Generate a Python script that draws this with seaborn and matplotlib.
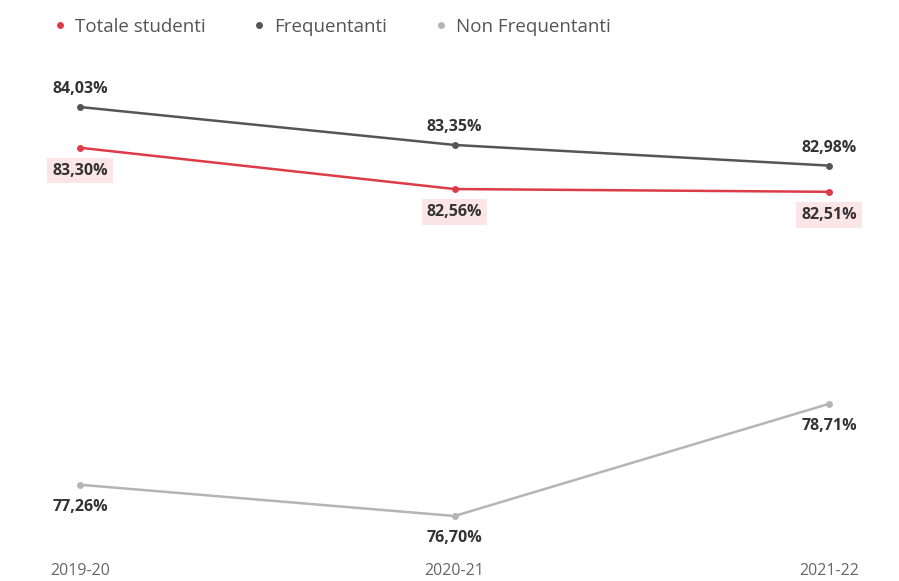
import pandas as pd
import matplotlib
matplotlib.use("Agg")
import matplotlib.pyplot as plt
import seaborn as sns
from matplotlib.lines import Line2D

# dati
anni = ["2019-20", "2020-21", "2021-22"]
totale = [83.30, 82.56, 82.51]
frequentanti = [84.03, 83.35, 82.98]
non_frequentanti = [77.26, 76.70, 78.71]

serie = ["Totale studenti", "Frequentanti", "Non Frequentanti"]
colori = ["#de3b48", "#555555", "#b5b5b5"]

df = pd.DataFrame({
    "anno": anni * 3,
    "pos": list(range(len(anni))) * 3,
    "valore": totale + frequentanti + non_frequentanti,
    "serie": [s for s in serie for _ in anni],
})

sns.set_style("white")
plt.rcParams['font.family'] = ['Open Sans', 'DejaVu Sans']

fig = plt.figure(figsize=(8.99, 5.81), dpi=100)
ax = fig.add_axes([80 / 899, 51 / 581, 749 / 899, 440 / 581])

sns.lineplot(data=df, x="pos", y="valore", hue="serie", hue_order=serie,
             palette=colori, marker="o", markersize=5, markeredgewidth=0,
             linewidth=1.8, legend=False, ax=ax)
for ln in ax.lines:
    ln.set_clip_on(False)

ax.set_xlim(0, 2)
ax.set_ylim(76.449, 84.335)
ax.set_xticks(range(len(anni)))
ax.set_xticklabels(anni, color="#666666", fontsize=11.5)
ax.tick_params(axis="x", length=0, pad=24)
ax.set_yticks([])
ax.set_xlabel("")
ax.set_ylabel("")
sns.despine(ax=ax, left=True, bottom=True)

def fmt(v):
    return f"{v:.2f}%".replace(".", ",")

# etichette
for i, v in enumerate(frequentanti):
    ax.annotate(fmt(v), (i, v), xytext=(0, 13), textcoords="offset points",
                ha="center", va="center", fontsize=11.5, fontweight="bold",
                color="#333333", annotation_clip=False)
for i, v in enumerate(totale):
    ax.annotate(fmt(v), (i, v), xytext=(0, -16.5), textcoords="offset points",
                ha="center", va="center", fontsize=11.5, fontweight="bold",
                color="#333333", annotation_clip=False,
                bbox=dict(boxstyle="square,pad=0.3", fc="#fbe5e6", ec="none"))
for i, v in enumerate(non_frequentanti):
    ax.annotate(fmt(v), (i, v), xytext=(0, -16), textcoords="offset points",
                ha="center", va="center", fontsize=11.5, fontweight="bold",
                color="#333333", annotation_clip=False)

# legenda
handles = [Line2D([], [], linestyle="none", marker="o", markersize=5,
                  markerfacecolor=c, markeredgewidth=0) for c in colori]
fig.legend(handles, serie, loc="center left", bbox_to_anchor=(34 / 899, 1 - 27 / 581),
           ncol=3, frameon=False, fontsize=13.5, labelcolor="#555555",
           handletextpad=0.3, columnspacing=2.35, handlelength=1.0)

fig.savefig("out.png", dpi=100)
